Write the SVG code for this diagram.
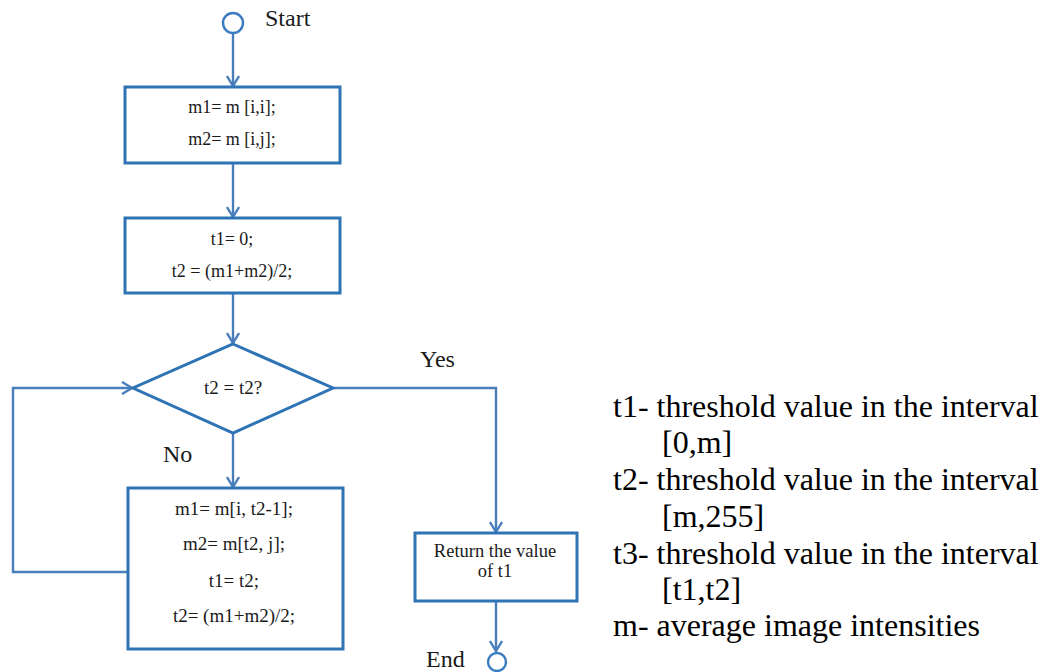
<svg xmlns="http://www.w3.org/2000/svg" width="1043" height="672" viewBox="0 0 1043 672">
  <style>
    .box { fill: #ffffff; stroke: #2e74b4; stroke-width: 3; }
    .term { fill: #ffffff; stroke: #3b7cc0; stroke-width: 2.4; }
    .wire { fill: none; stroke: #4a7ebb; stroke-width: 2.4; }
    .code { font-family: "Liberation Serif", serif; font-size: 18px; fill: #1a1a1a; text-anchor: middle; }
    .big { font-size: 19px; }
    .lbl { font-family: "Liberation Serif", serif; font-size: 24px; fill: #1a1a1a; }
    .legend { font-family: "Liberation Serif", serif; font-size: 32px; fill: #000000; }
  </style>
  <defs>
    <marker id="open" viewBox="0 0 14 14" refX="12" refY="7" markerWidth="14" markerHeight="14" markerUnits="userSpaceOnUse" orient="auto">
      <polyline points="2,1 12,7 2,13" fill="none" stroke="#4a7ebb" stroke-width="2.4"/>
    </marker>
  </defs>
  <rect width="1043" height="672" fill="#ffffff"/>

  <g id="connectors">
    <line class="wire" x1="233" y1="33" x2="233" y2="86" marker-end="url(#open)"/>
    <line class="wire" x1="233" y1="163" x2="233" y2="217" marker-end="url(#open)"/>
    <line class="wire" x1="233" y1="293" x2="233" y2="343" marker-end="url(#open)"/>
    <line class="wire" x1="233" y1="433" x2="233" y2="487" marker-end="url(#open)"/>
    <polyline class="wire" points="333,388 496,388 496,532" marker-end="url(#open)"/>
    <polyline class="wire" points="128,572 13,572 13,388 132,388" marker-end="url(#open)"/>
    <line class="wire" x1="496" y1="601" x2="496" y2="651" marker-end="url(#open)"/>
  </g>

  <g id="start">
    <circle class="term" cx="233" cy="23" r="10"/>
    <text class="lbl" x="265" y="26">Start</text>
  </g>

  <g id="init-m">
    <rect class="box" x="125" y="87" width="215" height="76"/>
    <text class="code" x="232" y="113">m1= m [i,i];</text>
    <text class="code" x="232" y="145">m2= m [i,j];</text>
  </g>

  <g id="init-t">
    <rect class="box" x="125" y="218" width="215" height="75"/>
    <text class="code" x="232" y="245">t1= 0;</text>
    <text class="code" x="232" y="277">t2 = (m1+m2)/2;</text>
  </g>

  <g id="test">
    <polygon class="box" points="233,344 333,388 233,433 133,388"/>
    <text class="code big" x="233" y="394">t2 = t2?</text>
    <text class="lbl" x="420" y="367">Yes</text>
    <text class="lbl" x="163" y="462">No</text>
  </g>

  <g id="update">
    <rect class="box" x="128" y="488" width="215" height="161"/>
    <text class="code big" x="234" y="515">m1= m[i, t2-1];</text>
    <text class="code big" x="234" y="550">m2= m[t2, j];</text>
    <text class="code big" x="234" y="587">t1= t2;</text>
    <text class="code big" x="234" y="622">t2= (m1+m2)/2;</text>
  </g>

  <g id="result">
    <rect class="box" x="415" y="533" width="162" height="68"/>
    <text class="code" x="495" y="557" style="font-size:18.5px">Return the value</text>
    <text class="code" x="495" y="577" style="font-size:18.5px">of t1</text>
  </g>

  <g id="end">
    <circle class="term" cx="497" cy="662" r="9"/>
    <text class="lbl" x="426" y="667">End</text>
  </g>

  <g id="legend">
    <text class="legend" x="613" y="417">t1- threshold value in the interval</text>
    <text class="legend" x="662" y="453">[0,m]</text>
    <text class="legend" x="613" y="490">t2- threshold value in the interval</text>
    <text class="legend" x="662" y="527">[m,255]</text>
    <text class="legend" x="613" y="564">t3- threshold value in the interval</text>
    <text class="legend" x="662" y="600">[t1,t2]</text>
    <text class="legend" x="613" y="636">m- average image intensities</text>
  </g>
</svg>
